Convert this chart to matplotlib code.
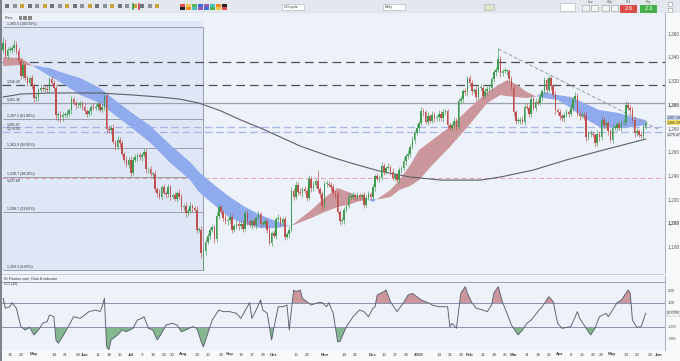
import numpy as np
import pandas as pd
import matplotlib
matplotlib.use("Agg")
import matplotlib.pyplot as plt
from matplotlib.patches import Rectangle

plt.rcParams['font.family'] = ['Liberation Sans', 'DejaVu Sans']

W, H = 680, 361
start = '2018-04-11'

# daily closes, Apr 11 2018 - May 24 2019 (one per weekday)
closes = np.array([
    1352, 1341, 1346, 1346, 1347, 1350, 1345, 1336, 1324, 1333,
    1322, 1318, 1322, 1316, 1305, 1306, 1312, 1314, 1313, 1313,
    1312, 1321, 1318, 1314, 1291, 1291, 1289, 1291, 1291, 1292,
    1295, 1304, 1301, 1299, 1299, 1301, 1298, 1294, 1292, 1294,
    1298, 1297, 1298, 1300, 1295, 1298, 1307, 1279, 1278, 1280,
    1268, 1264, 1270, 1267, 1258, 1253, 1249, 1253, 1242, 1253,
    1255, 1257, 1255, 1257, 1260, 1245, 1245, 1241, 1241, 1228,
    1225, 1222, 1230, 1225, 1224, 1230, 1222, 1223, 1220, 1225,
    1222, 1213, 1214, 1208, 1210, 1214, 1212, 1211, 1194, 1194,
    1174, 1176, 1184, 1189, 1194, 1196, 1186, 1206, 1213, 1209,
    1204, 1201, 1202, 1205, 1194, 1197, 1199, 1197, 1199, 1195,
    1208, 1201, 1198, 1201, 1198, 1204, 1207, 1199, 1199, 1201,
    1194, 1183, 1191, 1189, 1203, 1204, 1200, 1203, 1188, 1190,
    1194, 1227, 1222, 1232, 1226, 1225, 1228, 1227, 1221, 1237,
    1229, 1232, 1235, 1228, 1224, 1214, 1233, 1233, 1232, 1230,
    1225, 1224, 1209, 1201, 1202, 1211, 1214, 1222, 1222, 1223,
    1222, 1223, 1222, 1223, 1215, 1221, 1224, 1222, 1230, 1239,
    1237, 1238, 1248, 1243, 1246, 1247, 1243, 1238, 1240, 1236,
    1244, 1246, 1252, 1256, 1258, 1264, 1270, 1276, 1280, 1284,
    1294, 1293, 1285, 1290, 1286, 1291, 1288, 1289, 1292, 1288,
    1293, 1294, 1282, 1280, 1282, 1286, 1281, 1303, 1304, 1311,
    1310, 1322, 1318, 1311, 1312, 1306, 1314, 1314, 1307, 1311,
    1313, 1314, 1321, 1327, 1329, 1338, 1326, 1328, 1328, 1328,
    1321, 1314, 1293, 1286, 1286, 1287, 1285, 1298, 1297, 1292,
    1304, 1297, 1302, 1301, 1306, 1311, 1320, 1312, 1322, 1315,
    1308, 1295, 1293, 1290, 1288, 1291, 1293, 1292, 1297, 1304,
    1307, 1292, 1290, 1291, 1290, 1272, 1275, 1275, 1274, 1267,
    1275, 1272, 1287, 1282, 1284, 1277, 1270, 1280, 1280, 1283,
    1280, 1284, 1285, 1299, 1297, 1295, 1287, 1276, 1277, 1274,
    1273, 1281, 1284], dtype=float)
first_open = 1346

wick_up = np.array([
    5, 3, 2, 3, 2, 4, 3, 2, 3, 3,  2, 3, 2, 3, 2, 3, 2, 3, 2, 2,
    3, 2, 3, 2, 2, 2, 3, 2, 2, 3,  2, 3, 2, 2, 3, 2, 2, 3, 2, 2,
    2, 3, 2, 3, 2, 3, 3, 2, 3, 2,  3, 2, 3, 2, 3, 2, 3, 2, 3, 2,
    3, 2, 3, 2, 3, 2, 2, 3, 2, 3,  2, 3, 2, 3, 2, 3, 2, 2, 3, 2,
    3, 2, 2, 3, 2, 3, 2, 2, 3, 2,  3, 2, 3, 2, 2, 3, 2, 3, 3, 2,
    2, 3, 2, 3, 2, 2, 3, 2, 2, 3,  2, 3, 2, 2, 3, 2, 3, 2, 2, 3,
    2, 3, 2, 3, 2, 3, 2, 2, 3, 2,  3, 3, 2, 3, 2, 3, 2, 3, 2, 3,
    2, 3, 2, 9, 2, 3, 2, 3, 2, 2,  3, 2, 3, 2, 3, 2, 2, 3, 2, 3,
    2, 3, 2, 2, 3, 2, 3, 2, 3, 2,  3, 2, 3, 2, 2, 3, 2, 3, 2, 2,
    3, 2, 3, 2, 3, 2, 3, 2, 3, 2,  4, 3, 2, 3, 2, 3, 2, 2, 3, 2,
    3, 2, 2, 3, 2, 3, 2, 2, 3, 2,  3, 2, 3, 2, 2, 3, 2, 3, 2, 3,
    2, 3, 2, 3, 2, 9, 3, 2, 3, 2,  2, 3, 2, 2, 3, 2, 3, 2, 3, 2,
    3, 2, 3, 2, 3, 2, 3, 2, 3, 2,  2, 3, 2, 3, 2, 2, 3, 2, 3, 2,
    3, 2, 3, 2, 2, 3, 2, 3, 2, 2,  3, 2, 3, 2, 3, 2, 2, 3, 2, 3,
    2, 3, 2, 4, 3, 2, 3, 2, 3, 2,  3, 2, 3])
wick_dn = np.array([
    3, 2, 3, 2, 3, 2, 3, 2, 3, 2,  2, 3, 2, 3, 3, 2, 3, 2, 2, 3,
    2, 3, 2, 3, 4, 5, 4, 3, 2, 3,  2, 3, 2, 3, 2, 2, 3, 2, 3, 2,
    3, 2, 2, 3, 2, 2, 3, 3, 2, 3,  2, 3, 2, 3, 2, 3, 2, 3, 3, 2,
    2, 3, 2, 3, 2, 3, 3, 2, 3, 2,  3, 2, 3, 2, 3, 2, 3, 2, 2, 3,
    2, 3, 2, 3, 2, 2, 3, 2, 3, 2,  4, 14, 3, 2, 3, 2, 3, 2, 3, 2,
    3, 2, 3, 2, 3, 2, 2, 3, 2, 3,  2, 3, 2, 3, 2, 3, 2, 3, 2, 2,
    3, 2, 3, 2, 3, 2, 3, 2, 3, 2,  3, 2, 3, 2, 3, 2, 3, 2, 3, 2,
    3, 2, 3, 2, 3, 3, 2, 3, 2, 3,  2, 3, 2, 3, 2, 3, 2, 2, 3, 2,
    3, 2, 3, 2, 3, 2, 2, 3, 2, 3,  2, 3, 2, 3, 2, 2, 3, 2, 3, 2,
    3, 2, 2, 3, 2, 3, 2, 3, 2, 3,  2, 3, 2, 3, 2, 2, 3, 2, 3, 2,
    3, 2, 3, 2, 3, 2, 3, 2, 3, 2,  2, 3, 2, 3, 2, 3, 2, 2, 3, 2,
    3, 2, 3, 2, 3, 2, 3, 2, 2, 3,  2, 2, 3, 3, 2, 3, 2, 3, 2, 3,
    3, 2, 3, 2, 2, 3, 2, 3, 2, 3,  2, 3, 2, 3, 2, 3, 2, 3, 2, 3,
    3, 2, 3, 2, 3, 3, 2, 3, 2, 3,  2, 3, 2, 3, 2, 3, 2, 3, 2, 3,
    2, 3, 2, 3, 2, 3, 2, 4, 3, 2,  2, 3, 2])

# moving-average ribbon (fast / slow), sampled
band_idx = [0, 8, 14, 21, 26, 35, 44, 49, 58, 67, 76, 85, 89, 96, 103, 110, 117,
            124, 129, 132, 140, 146, 152, 158, 162, 166, 168, 170, 176, 180, 185,
            189, 195, 203, 211, 220, 226, 229, 233, 238, 242, 246, 252, 258, 264,
            271, 280, 286, 292]
ema_fast = [1339.7, 1338.9, 1331.7, 1323.7, 1318.6, 1307.7, 1300.9, 1293.3, 1280.7,
            1267.2, 1250.3, 1235.9, 1225.8, 1214.8, 1203.9, 1198.8, 1195.4, 1195.4,
            1197.1, 1198.8, 1210.6, 1220.8, 1229.2, 1225.0, 1221.6, 1219.5, 1217.4,
            1219.9, 1227.5, 1235.9, 1248.6, 1261.3, 1269.7, 1280.7, 1295.0, 1310.2,
            1317.0, 1320.3, 1317.0, 1310.2, 1306.8, 1305.1, 1303.5, 1296.7, 1288.3,
            1280.7, 1279.8, 1280.7, 1282.4]
ema_slow = [1332.1, 1333.0, 1332.6, 1330.5, 1327.1, 1322.0, 1313.6, 1306.0, 1293.3,
            1281.5, 1265.5, 1251.1, 1242.7, 1231.7, 1221.6, 1213.2, 1206.4, 1201.3,
            1198.0, 1198.0, 1203.9, 1208.9, 1213.2, 1215.7, 1218.2, 1219.5, 1219.9,
            1219.5, 1221.6, 1227.5, 1230.9, 1235.9, 1248.6, 1263.8, 1280.7, 1300.9,
            1307.7, 1306.8, 1306.0, 1305.1, 1306.4, 1310.2, 1307.7, 1306.0, 1300.9,
            1295.0, 1292.5, 1289.1, 1286.6]

# 200 day SMA, sampled
sma_idx = [0, 8, 21, 44, 59, 71, 80, 89, 99, 108, 117, 126, 135, 149, 158, 171,
           185, 199, 217, 226, 241, 256, 271, 292]
sma_val = [1306.0, 1308.5, 1309.4, 1309.4, 1307.7, 1306.0, 1304.3, 1300.9, 1294.2,
           1286.6, 1279.8, 1272.2, 1264.6, 1255.4, 1250.3, 1243.5, 1238.5, 1235.9,
           1235.9, 1238.5, 1244.4, 1252.9, 1260.4, 1270.5]

# descending trendline from the February high
trend_idx = [225, 298]
trend_val = [1346.5, 1278.5]

# retracement of the Apr-Aug 2018 move
fib_end = 91
fib_levels = [1365.5, 1287.1, 1262.9, 1238.7, 1208.7, 1160.3]
fib_labels = ['1,365.5 (100.00%)', '1,287.1 (61.80%)', '1,262.9 (50.00%)',
              '1,238.7 (38.20%)', '1,208.7 (23.60%)', '1,160.3 (0.00%)']

dark_levels = [1335.5, 1316.2]
grey_level = 1301.0
blue_levels = [1280.7, 1276.5]
red_level = 1237.6
level_labels = {1316.2: '1,316.20', 1301.0: '1,301.36', 1280.7: '1,281.07',
                1276.5: '1,276.50'}

price_ticks = [1180, 1200, 1220, 1240, 1260, 1280, 1300, 1320, 1340, 1360]

# CCI (20), sampled
cci_idx = [0, 1, 3, 4, 6, 8, 10, 12, 14, 16,
           18, 20, 21, 23, 24, 25, 27, 30, 32, 35,
           38, 39, 42, 44, 45, 46, 47, 48, 49, 52,
           54, 56, 59, 61, 63, 64, 66, 68, 70, 72,
           74, 77, 79, 81, 83, 86, 88, 90, 91, 93,
           95, 98, 100, 103, 106, 108, 111, 112, 113, 115,
           117, 118, 120, 122, 123, 125, 127, 129, 130, 132,
           133, 135, 136, 138, 140, 143, 145, 147, 148, 150,
           152, 153, 156, 159, 162, 164, 166, 168, 169, 170,
           173, 174, 176, 178, 179, 182, 184, 186, 188, 190,
           193, 195, 198, 202, 203, 204, 206, 208, 210, 211,
           213, 215, 218, 220, 222, 223, 225, 227, 229, 231,
           234, 236, 238, 240, 243, 245, 247, 248, 250, 252,
           254, 258, 261, 262, 264, 267, 269, 271, 274, 275,
           277, 279, 281, 284, 285, 286, 288, 290, 292]
cci_val = [139, 56, 69, 103, 56, -97, -125, -103, -166, -125,
           -69, -55, 0, -14, -208, -236, -180, -83, -14, -28,
           14, 28, 42, 28, 69, 139, -264, -291, -208, -166,
           -125, -139, -111, -42, -28, -14, -111, -125, -208, -153,
           -83, -69, -83, -139, -125, -97, -111, -222, -264, -153,
           -42, 42, 28, 28, 14, -28, 69, 103, -28, 42,
           125, 42, 14, -208, -111, 69, 69, 83, -125, 208,
           194, 208, 139, 111, 83, 103, 103, 69, 103, 14,
           -222, -222, -97, -14, 42, 28, -14, 56, 69, 167,
           194, 208, 111, 56, 28, 103, 167, 180, 153, 125,
           103, 83, 69, 69, -97, -69, -111, 180, 236, 180,
           103, 56, 42, 28, 83, 180, 236, 103, 14, -83,
           -166, -125, -69, -42, 28, 69, 125, 153, 111, -69,
           -111, -97, 28, -28, -83, -166, -111, -14, 14, -14,
           42, 103, 125, 208, 180, -42, -103, -97, 14.6]

tick_dates = ['2018-04-16', '2018-04-23', '2018-05-01', '2018-05-14', '2018-05-21',
              '2018-05-29', '2018-06-01', '2018-06-11', '2018-06-18', '2018-06-25',
              '2018-07-02', '2018-07-09', '2018-07-16', '2018-07-23', '2018-07-30',
              '2018-08-01', '2018-08-13', '2018-08-20', '2018-08-28', '2018-09-03',
              '2018-09-10', '2018-09-17', '2018-09-24', '2018-10-01', '2018-10-15',
              '2018-10-22', '2018-11-01', '2018-11-14', '2018-11-21', '2018-12-03',
              '2018-12-10', '2018-12-17', '2018-12-24', '2019-01-01', '2019-01-14',
              '2019-01-21', '2019-01-28', '2019-02-01', '2019-02-11', '2019-02-18',
              '2019-02-25', '2019-03-01', '2019-03-11', '2019-03-18', '2019-03-25',
              '2019-04-01', '2019-04-08', '2019-04-15', '2019-04-22', '2019-04-29',
              '2019-05-01', '2019-05-13', '2019-05-20', '2019-05-28', '2019-06-03']
tick_labels = ['16', '23', 'May', '14', '21', '29', 'Jun', '11', '18', '25',
               'Jul', '9', '16', '23', '30', 'Aug', '13', '20', '28', 'Sep',
               '10', '17', '24', 'Oct', '15', '22', 'Nov', '14', '21', 'Dec',
               '10', '17', '24', '2019', '14', '21', '28', 'Feb', '11', '18',
               '25', 'Mar', '11', '18', '25', 'Apr', '8', '15', '22', '29',
               'May', '13', '20', '28', 'Jun']

BG = '#edf1fa'
UP, DOWN = '#3f9b4f', '#c0504d'
RED_BAND, BLUE_BAND = '#cc979c', '#90aaee'


def box(x0, y0, x1, y1):
    return [x0 / W, 1 - y1 / H, (x1 - x0) / W, (y1 - y0) / H]


fig = plt.figure(figsize=(W / 100, H / 100), dpi=100)
fig.patch.set_facecolor('#f8f9fb')

# ---- toolbar strip ----
tb = fig.add_axes(box(0, 0, W, 13))
tb.set_xlim(0, W)
tb.set_ylim(13, 0)
tb.axis('off')
tb.add_patch(Rectangle((0, 0), W, 13, color='#e3e7ee'))
tb.plot([0, W], [12.6, 12.6], color='#b5bcc8', lw=0.8)
for i, x in enumerate(np.arange(5, 160, 7.5)):
    tb.add_patch(Rectangle((x, 4), 4, 4, color=['#6b7280', '#8a919c', '#c9a43a'][i % 3], lw=0))
tb.plot([133, 133], [4, 9], color='#2f9e44', lw=1.2)
tb.plot([139, 139], [4, 9], color='#d23c3c', lw=1.2)
pal = ['#e84a4a', '#f2c94c', '#56b15a', '#3a6fd8', '#9b59b6', '#40c4c4', '#f28c28', '#222']
for i, c in enumerate(pal):
    tb.add_patch(Rectangle((180 + i * 6, 4), 5, 2.5, color=c, lw=0))
    tb.add_patch(Rectangle((180 + i * 6, 7), 5, 2.5, color=pal[-1 - i], lw=0))
for x0, txt in [(282, '1H cycle'), (383, 'Daily')]:
    tb.add_patch(Rectangle((x0, 4), 22, 6, facecolor='white', edgecolor='#a8afba', lw=0.4))
    tb.text(x0 + 2, 7.2, txt, fontsize=2.6, va='center', color='#333')
tb.add_patch(Rectangle((484, 4), 10, 6, facecolor='#d9e8c8', edgecolor='#a8afba', lw=0.4))
tb.add_patch(Rectangle((560, 3), 15, 8, facecolor='white', edgecolor='#a8afba', lw=0.4))
for x0, txt in [(586, 'Low'), (606, 'High'), (624, 'Sell'), (644, 'Buy')]:
    tb.text(x0 + 4, 2.3, txt, fontsize=2.2, ha='center', va='center', color='#555')
for x0 in (582, 591, 602, 611):
    tb.add_patch(Rectangle((x0, 5), 7, 6, facecolor='#f4f4f4', edgecolor='#999', lw=0.4))
tb.add_patch(Rectangle((620, 4.5), 17, 8, color='#dc4b4b', lw=0))
tb.add_patch(Rectangle((640, 4.5), 17, 8, color='#43b04a', lw=0))
tb.text(628.5, 8.6, '2.6', fontsize=4.2, ha='center', va='center', color='white')
tb.text(648.5, 8.6, '2.3', fontsize=4.2, ha='center', va='center', color='white')
for y0 in (2, 8):
    tb.add_patch(Rectangle((668, y0), 4, 3.5, facecolor='white', edgecolor='#999', lw=0.4))

# ---- price panel ----
ax = fig.add_axes(box(2, 13, 665, 273))
ax.set_facecolor(BG)
ax.set_xlim(-0.55, 300.8)
ax.set_ylim(1157.5, 1376.9)

ax.add_patch(Rectangle((-0.55, fib_levels[-1]), fib_end + 0.55, 1370 - fib_levels[-1],
                       facecolor='#dfe6f6', edgecolor='none', zorder=0))
ax.hlines(fib_levels, 0, fib_end, color='#8e929e', lw=0.6, zorder=1)
ax.vlines(fib_end, fib_levels[-1], fib_levels[0], color='#8e929e', lw=0.6, zorder=1)
for lvl, lab in zip(fib_levels, fib_labels):
    ax.text(1.5, lvl + 0.8, lab, fontsize=2.6, color='#333', va='bottom', zorder=5)

for lvl in dark_levels:
    ax.axhline(lvl, color='#4d4f55', lw=0.9, ls=(0, (7, 4)), zorder=2)
ax.axhline(grey_level, color='#9aa0ab', lw=0.9, zorder=2)
for lvl in blue_levels:
    ax.axhline(lvl, color='#a6b4e8', lw=0.9, ls=(0, (6, 3)), zorder=2)
ax.axhline(red_level, color='#e2a2a2', lw=0.7, ls=(0, (5, 3)), zorder=2)
for lvl, lab in level_labels.items():
    ax.text(1.5, lvl + 0.8, lab, fontsize=2.6, color='#333', va='bottom', zorder=5)
ax.text(1.5, red_level - 0.8, '1,237.60', fontsize=2.6, color='#333', va='top', zorder=5)

bi = np.array(band_idx)
bf = np.array(ema_fast)
bs = np.array(ema_slow)
ax.fill_between(bi, bf, bs, where=bf >= bs, interpolate=True, color=RED_BAND, lw=0, zorder=3)
ax.fill_between(bi, bf, bs, where=bf < bs, interpolate=True, color=BLUE_BAND, lw=0, zorder=3)

ax.plot(sma_idx, sma_val, color='#5c5f66', lw=0.8, zorder=4)
ax.plot(trend_idx, trend_val, color='#9b9ea6', lw=0.7, ls=(0, (4, 2)), zorder=4)

n = len(closes)
x = np.arange(n)
opens = np.r_[first_open, closes[:-1]]
top = np.maximum(opens, closes)
bot = np.minimum(opens, closes)
highs = top + wick_up
lows = bot - wick_dn
cols = np.where(closes >= opens, UP, DOWN)
body = np.where(top - bot < 0.6, 0.6, top - bot)
ax.vlines(x, lows, highs, colors=cols, lw=0.45, zorder=5)
ax.bar(x, body, bottom=bot, width=0.75, color=cols, lw=0, zorder=6)

ax.text(0.5, 1372.5, 'Price', fontsize=2.8, color='#333', va='center', zorder=7)
for i in range(3):
    ax.add_patch(Rectangle((7 + i * 2.2, 1371), 1.5, 3, facecolor='#888', lw=0, zorder=7))

ax.set_xticks([])
ax.yaxis.tick_right()
ax.set_yticks(price_ticks)
ax.set_yticklabels([f'{p:,}' for p in price_ticks])
ax.tick_params(axis='y', length=0, pad=2, labelsize=3.4, labelcolor='#555')
for lab, p in zip(ax.get_yticklabels(), price_ticks):
    if p % 100 == 0:
        lab.set_fontweight('bold')
for s in ('top', 'left', 'bottom'):
    ax.spines[s].set_visible(False)
ax.spines['right'].set_color('#a9b0bd')
ax.spines['right'].set_linewidth(0.7)

yt = ax.get_yaxis_transform()
for val, txt, fc in [(1288.8, '1,287.18', '#c9d4f4'), (1284.4, '1,285.59', '#f0e05a'),
                     (1274.5, '1,275.47', '#e6e8ee')]:
    ax.text(1.003, val, txt, transform=yt, fontsize=2.5, va='center', color='#333',
            bbox=dict(boxstyle='square,pad=0.1', fc=fc, ec='none'), clip_on=False)

# separator between panels
fig.add_artist(Rectangle((0, 1 - 275 / H), 665 / W, 1.5 / H, transform=fig.transFigure,
                         color='#c2c8d2', lw=0))

# ---- CCI panel ----
cax = fig.add_axes(box(2, 276, 665, 350))
cax.set_facecolor(BG)
cax.set_xlim(-0.55, 300.8)
cax.set_ylim(-291.7, 325)
ci = np.array(cci_idx)
cv = np.array(cci_val, dtype=float)
cax.fill_between(ci, 100, cv, where=cv > 100, interpolate=True, color=RED_BAND, lw=0)
cax.fill_between(ci, -100, cv, where=cv < -100, interpolate=True, color='#86b890', lw=0)
for lvl in (100, -100):
    cax.axhline(lvl, color='#8b93ad', lw=0.7)
cax.axhline(275, color='#9ca3b3', lw=0.7)
cax.plot(ci, cv, color='#585e6e', lw=0.65)
cax.text(0.5, 300, 'IG Finance.com, Data & indicator', fontsize=2.6, color='#333', va='center')
cax.text(0.5, 256, 'CCI (20)', fontsize=2.6, color='#333', va='center')

cax.yaxis.tick_right()
cci_ticks = [200, 100, -100, -200]
cax.set_yticks(cci_ticks)
cax.set_yticklabels([str(t) for t in cci_ticks])
cax.tick_params(axis='y', length=0, pad=2, labelsize=3.2, labelcolor='#555')
cax.text(1.003, cv[-1], '14.6098', transform=cax.get_yaxis_transform(), fontsize=2.5,
         va='center', color='#333', clip_on=False,
         bbox=dict(boxstyle='square,pad=0.1', fc='white', ec='#888', lw=0.3))

tick_pos = [np.busday_count(start, d) for d in tick_dates]
cax.set_xticks(tick_pos)
cax.set_xticklabels(tick_labels)
cax.tick_params(axis='x', length=0, pad=1.8, labelsize=3.2, labelcolor='#444')
xlabs = cax.get_xticklabels()
for i, lab in enumerate(xlabs):
    t = lab.get_text()
    if not t.isdigit() or t == '2019':
        lab.set_fontweight('bold')
    # crowded pairs (a day number right before a month start)
    if i + 1 < len(tick_pos) and tick_pos[i + 1] - tick_pos[i] <= 2:
        lab.set_horizontalalignment('right')
        xlabs[i + 1].set_horizontalalignment('left')
for s in ('top', 'left', 'bottom'):
    cax.spines[s].set_visible(False)
cax.spines['right'].set_color('#a9b0bd')
cax.spines['right'].set_linewidth(0.7)

fig.add_artist(Rectangle((0, 0), 1.5 / W, 1, transform=fig.transFigure, color='#7d828c', lw=0))

fig.savefig('out.png', dpi=100, facecolor=fig.get_facecolor())
